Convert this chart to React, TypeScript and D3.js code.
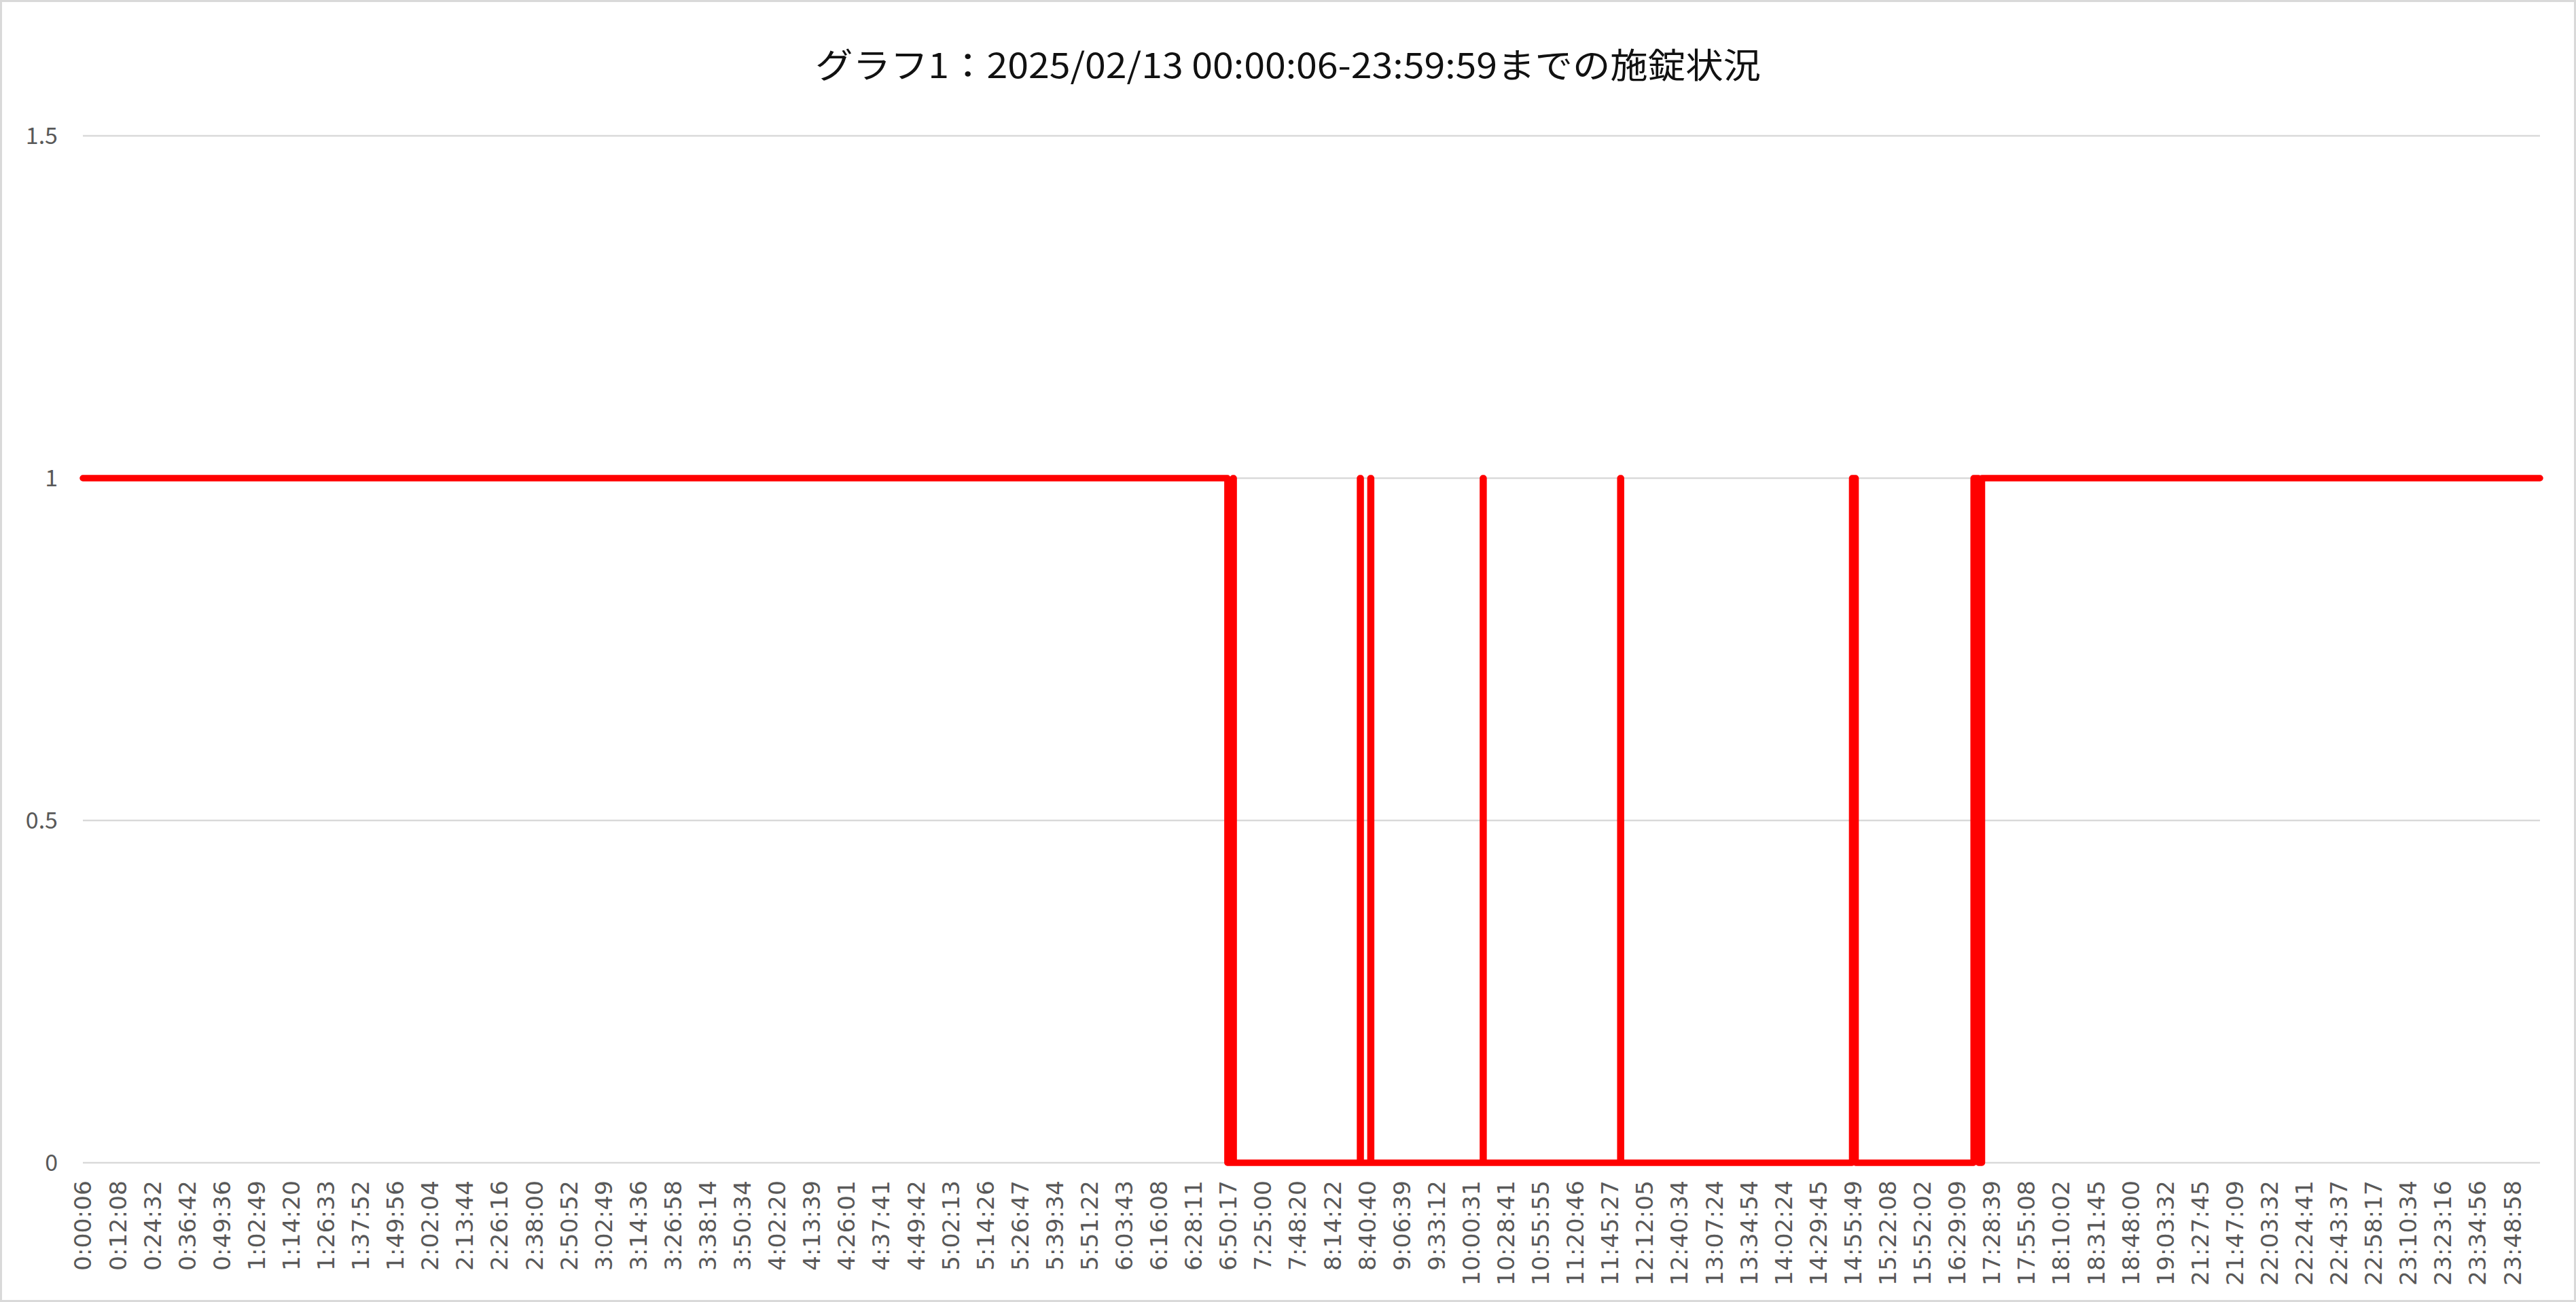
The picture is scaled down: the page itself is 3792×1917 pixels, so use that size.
import React from 'react';
import * as d3 from 'd3';

// chart size (matches the screenshot)
const WIDTH = 3792;
const HEIGHT = 1917;

const title = 'グラフ1：2025/02/13 00:00:06-23:59:59までの施錠状況';

// category axis: one category per log row, a label every LABEL_EVERY rows
const CATEGORY_COUNT = 3541;
const LABEL_EVERY = 50;

const tickLabels = [
  '0:00:06', '0:12:08', '0:24:32', '0:36:42', '0:49:36', '1:02:49', '1:14:20', '1:26:33',
  '1:37:52', '1:49:56', '2:02:04', '2:13:44', '2:26:16', '2:38:00', '2:50:52', '3:02:49',
  '3:14:36', '3:26:58', '3:38:14', '3:50:34', '4:02:20', '4:13:39', '4:26:01', '4:37:41',
  '4:49:42', '5:02:13', '5:14:26', '5:26:47', '5:39:34', '5:51:22', '6:03:43', '6:16:08',
  '6:28:11', '6:50:17', '7:25:00', '7:48:20', '8:14:22', '8:40:40', '9:06:39', '9:33:12',
  '10:00:31', '10:28:41', '10:55:55', '11:20:46', '11:45:27', '12:12:05', '12:40:34', '13:07:24',
  '13:34:54', '14:02:24', '14:29:45', '14:55:49', '15:22:08', '15:52:02', '16:29:09', '17:28:39',
  '17:55:08', '18:10:02', '18:31:45', '18:48:00', '19:03:32', '21:27:45', '21:47:09', '22:03:32',
  '22:24:41', '22:43:37', '22:58:17', '23:10:34', '23:23:16', '23:34:56', '23:48:58',
];

const yTicks = [0, 0.5, 1, 1.5];

// lock state changes: [row index, state] (1 = locked, 0 = unlocked)
const lockEvents: [number, number][] = [
  [0, 1], [1649, 0], [1657, 1], [1658, 0],
  [1840, 1], [1841, 0], [1855, 1], [1856, 0],
  [2017, 1], [2018, 0], [2215, 1], [2216, 0],
  [2549, 1], [2554, 0],
  [2724, 1], [2731, 0], [2736, 1],
  [3540, 1],
];

const plot = { left: 122, right: 3739, top: 200, bottom: 1712 };

export default function App() {
  const x = d3.scaleLinear().domain([0, CATEGORY_COUNT - 1]).range([plot.left, plot.right]);
  const y = d3.scaleLinear().domain([0, 1.5]).range([plot.bottom, plot.top]);

  const line = d3.line<[number, number]>()
    .x(d => x(d[0]))
    .y(d => y(d[1]))
    .curve(d3.curveStepAfter);

  const labelFont = '"DejaVu Sans", sans-serif';
  const jpFont = '"Noto Sans CJK JP", "Noto Sans", sans-serif';

  return (
    <svg
      width={WIDTH}
      height={HEIGHT}
      viewBox={`0 0 ${WIDTH} ${HEIGHT}`}
      style={{ position: 'absolute', left: 0, top: 0, display: 'block', background: '#fff' }}
    >
      <rect x={0} y={0} width={WIDTH} height={HEIGHT} fill="#fff" />
      <rect x={1.5} y={1.5} width={WIDTH - 3} height={HEIGHT - 3} fill="none" stroke="#D9D9D9" strokeWidth={3} />

      <text
        x={WIDTH / 2}
        y={115}
        textAnchor="middle"
        fontFamily={jpFont}
        fontSize={51}
        fill="#111"
        textLength={1392}
        lengthAdjust="spacingAndGlyphs"
      >
        {title}
      </text>

      {/* gridlines */}
      <g stroke="#D9D9D9" strokeWidth={2.5}>
        {yTicks.map(t => (
          <line key={t} x1={plot.left} x2={plot.right} y1={y(t)} y2={y(t)} />
        ))}
      </g>

      {/* y labels */}
      <g fontFamily={jpFont} fontSize={34} fill="#595959" textAnchor="end">
        {yTicks.map(t => (
          <text key={t} x={85} y={y(t)} dy="0.35em">{d3.format('~g')(t)}</text>
        ))}
      </g>

      {/* x labels, rotated */}
      <g fontFamily={labelFont} fontSize={34.5} fill="#595959" textAnchor="end">
        {tickLabels.map((lab, k) => (
          <text key={lab} transform={`translate(${x(k * LABEL_EVERY)},1738) rotate(-90)`} dy="0.36em">
            {lab}
          </text>
        ))}
      </g>

      <path
        d={line(lockEvents) ?? ''}
        fill="none"
        stroke="#FF0000"
        strokeWidth={9.5}
        strokeLinejoin="round"
        strokeLinecap="round"
      />
    </svg>
  );
}
